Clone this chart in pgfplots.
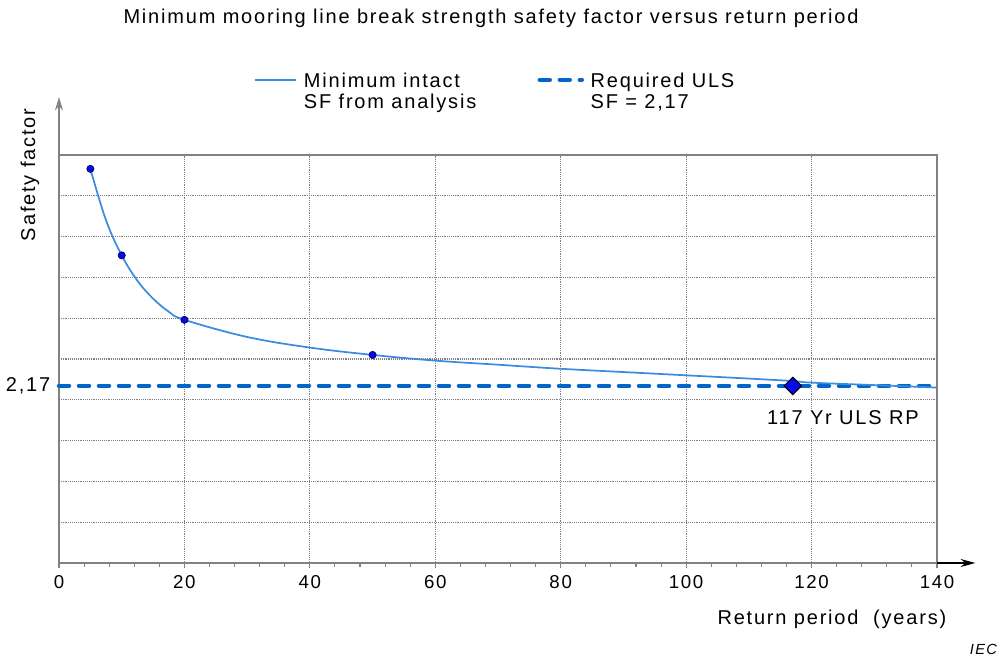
\documentclass[border=0pt]{standalone}
\usepackage{fontspec}
\setmainfont{Liberation Sans}[LetterSpace=9]
\usepackage{pgfplots}
\pgfplotsset{compat=1.18}
\usetikzlibrary{arrows.meta}
\definecolor{curve}{RGB}{60,140,222}
\definecolor{req}{RGB}{0,102,204}
\definecolor{mk}{RGB}{10,10,230}
\definecolor{axgray}{RGB}{130,130,130}
\newcommand{\tf}{\fontsize{15}{16}\selectfont}
\pgfplotsset{
  imgA/.style={legend image code/.code={\path[draw=none,fill=none] (0pt,-9pt) rectangle (0.1pt,9pt);\draw[##1] (0pt,9pt) -- (31pt,9pt);}},
  imgB/.style={legend image code/.code={\path[draw=none,fill=none] (0pt,-9pt) rectangle (0.1pt,9pt);\draw[##1] (1.5pt,9pt) -- (33pt,9pt);}},
}
\begin{document}
\begin{tikzpicture}
\useasboundingbox (-44.25pt,-72.75pt) rectangle (705.75pt,422.25pt);
\begin{axis}[
  scale only axis, width=658.5pt, height=306pt,
  xmin=0, xmax=140, ymin=0, ymax=5,
  clip=false,
  axis x line=bottom, axis y line=left,
  axis line style={-, draw=axgray, line width=1pt},
  xtick={0,20,...,140}, minor x tick num=4,
  ytick={0.5,1,...,4.5}, yticklabels={},
  xmajorgrids, ymajorgrids,
  grid style={densely dotted, gray, line width=0.8pt},
  tick style={axgray, line width=0.8pt},
  tick align=outside, major tick length=4pt, minor tick length=3pt,
  y tick style={draw=none},
  extra y ticks={2.17}, extra y tick labels={2{,}17},
  extra y tick style={grid=none, tick style={draw=none}},
  /pgf/number format/assume math mode=true,
  x tick label style={font=\fontsize{14}{16}\selectfont, yshift=-2pt},
  y tick label style={font=\tf, xshift=1pt},
  legend columns=2,
  legend cell align=left,
  legend style={at={(0.2175,1.215)}, anchor=north west, draw=none, fill=none,
    font=\tf, cells={align=left},
    /tikz/every odd column/.append style={column sep=3pt},
    /tikz/every even column/.append style={column sep=44pt}},
]
\addplot[req, line width=3.3pt, dash pattern=on 7.5pt off 7.5pt, line cap=round, forget plot]
  coordinates {(0,2.17) (140,2.17)};
\addplot[curve, line width=1.3pt, smooth, tension=0.6, imgA]
  coordinates {(5,4.83) (7.5,4.20) (10,3.77) (12.5,3.46) (15,3.24) (17.5,3.08) (20,2.98)
    (30,2.77) (40,2.64) (50,2.55) (60,2.48) (70,2.43) (80,2.38) (90,2.34) (100,2.30)
    (110,2.26) (117,2.23) (120,2.21) (130,2.18) (140,2.15)};
\addlegendentry{Minimum intact\\SF from analysis}
\addlegendimage{req, line width=3.3pt, dash pattern=on 7.5pt off 7.5pt, line cap=round, imgB}
\addlegendentry{Required ULS\\SF = 2,17}
\addplot[only marks, mark=*, mark size=2.7pt,
  mark options={fill=mk, draw=black!60!blue, line width=0.5pt}, forget plot]
  coordinates {(5,4.83) (10,3.77) (20,2.98) (50,2.55)};
\addplot[only marks, mark=square*, mark size=4.6pt,
  mark options={rotate=45, fill=mk, draw=black, line width=0.8pt}, forget plot]
  coordinates {(117,2.17)};
\draw[axgray, line width=1pt] (axis cs:0,5) -- (axis cs:140,5) -- (axis cs:140,0);
\draw[axgray, line width=1pt, -{Stealth[length=10pt,width=6pt]}] (axis cs:0,5) -- (axis cs:0,5.71);
\draw[black, line width=1pt, -{Stealth[length=11pt,width=6pt]}] (axis cs:140,0) -- (axis cs:146.1,0);
\node[fill=white, inner sep=1.5pt, font=\tf] at (axis cs:125,1.78) {117 Yr ULS RP};
\end{axis}
\node[font=\tf] at (324pt,408.75pt) {Minimum mooring line break strength safety factor versus return period};
\node[font=\tf, anchor=east] at (669pt,-42pt) {Return period\ \ (years)};
\node[font=\tf, rotate=90] at (-21.75pt,291pt) {Safety factor};
\node[font=\fontsize{11}{13}\selectfont\itshape, anchor=east] at (707pt,-64.5pt) {IEC};
\end{tikzpicture}
\end{document}
